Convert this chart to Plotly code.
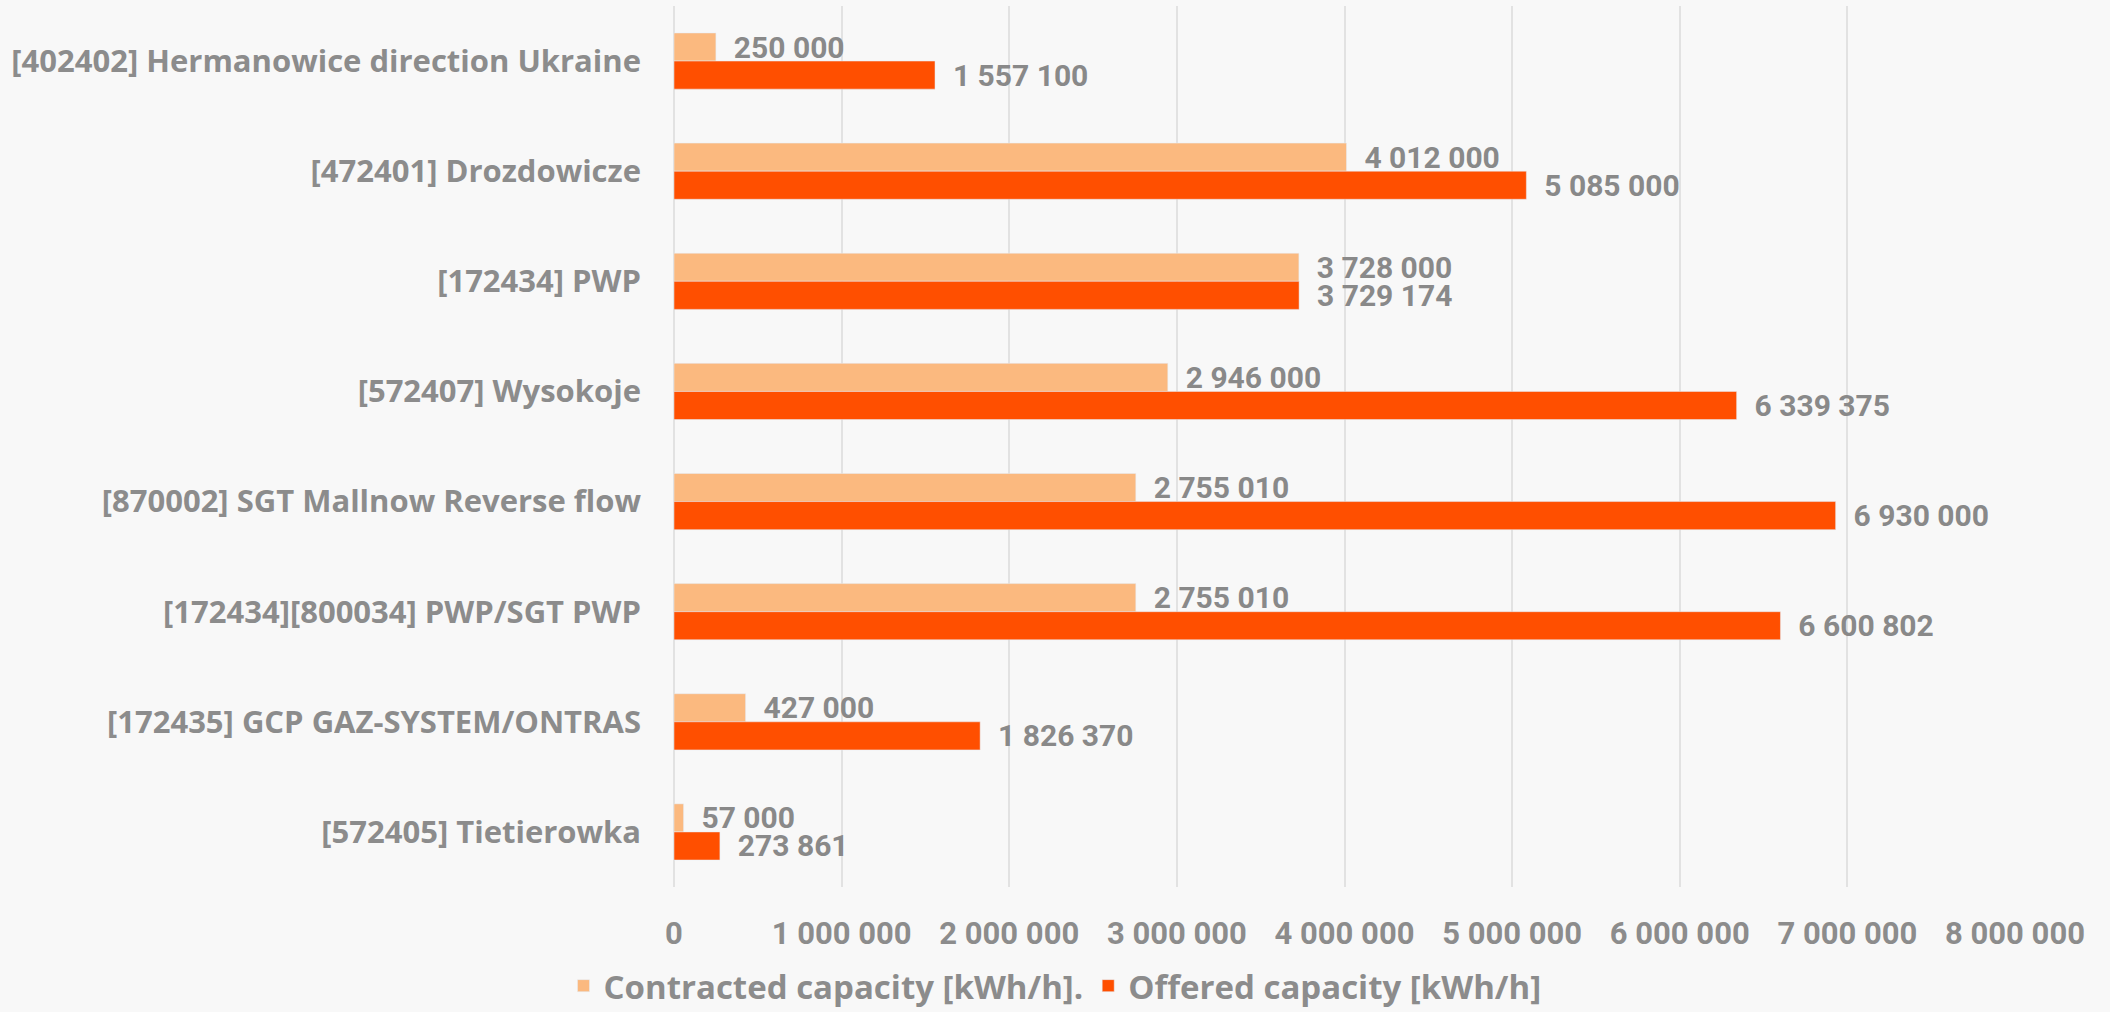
import plotly.graph_objects as go

categories = [
    "[402402] Hermanowice direction Ukraine",
    "[472401] Drozdowicze",
    "[172434] PWP",
    "[572407] Wysokoje",
    "[870002] SGT Mallnow Reverse flow",
    "[172434][800034] PWP/SGT PWP",
    "[172435] GCP GAZ-SYSTEM/ONTRAS",
    "[572405] Tietierowka",
]
contracted = [250000, 4012000, 3728000, 2946000, 2755010, 2755010, 427000, 57000]
offered = [1557100, 5085000, 3729174, 6339375, 6930000, 6600802, 1826370, 273861]
tick_vals = [0, 1000000, 2000000, 3000000, 4000000, 5000000, 6000000, 7000000, 8000000]

GRAY = "#8c8c8c"
LABEL_FONT = "Open Sans"
NUM_FONT = "Roboto"

num_font = dict(family=NUM_FONT, size=30, color="#898989", weight="bold")

fig = go.Figure()
fig.add_trace(go.Bar(
    y=categories, x=contracted, orientation="h",
    name="Contracted capacity [kWh/h].",
    marker=dict(color="#FBB97F"),
    texttemplate="\u00a0\u00a0%{x:,d}", textposition="outside",
    textfont=num_font, constraintext="none",
    cliponaxis=False,
))
fig.add_trace(go.Bar(
    y=categories, x=offered, orientation="h",
    name="Offered capacity [kWh/h]",
    marker=dict(color="#FF4F00"),
    texttemplate="\u00a0\u00a0%{x:,d}", textposition="outside",
    textfont=num_font, constraintext="none",
    cliponaxis=False,
))

fig.update_layout(
    width=2110, height=1012,
    paper_bgcolor="#F8F8F8", plot_bgcolor="#F8F8F8",
    margin=dict(l=674, r=95, t=6, b=125),
    barmode="group", bargap=0.49, bargroupgap=0,
    separators=". ",
    font=dict(family=LABEL_FONT, color=GRAY, size=31, weight="bold"),
    showlegend=True,
    legend=dict(
        orientation="h", xref="container", yref="container",
        x=0.5, xanchor="center", y=0.026, yanchor="middle",
        font=dict(family=LABEL_FONT, size=33, color=GRAY, weight="bold"),
    ),
)
fig.update_xaxes(
    range=[0, 8000000], tickvals=tick_vals, tickformat=",d",
    showgrid=True, gridcolor="#E2E2E2", gridwidth=1.5,
    zeroline=True, zerolinecolor="#E2E2E2", zerolinewidth=1.5,
    showline=False, ticklabelstandoff=25,
    tickfont=dict(family=NUM_FONT, size=31, color=GRAY, weight="bold"),
)
fig.update_yaxes(
    autorange="reversed", showgrid=False, zeroline=False, showline=False,
    ticklabelstandoff=32,
    tickfont=dict(family=LABEL_FONT, size=31, color=GRAY, weight="bold"),
)

fig.write_html(
    "out.html",
    config={"displayModeBar": False},
    post_script="document.body.style.margin='0';document.body.style.background='#F8F8F8';",
)
